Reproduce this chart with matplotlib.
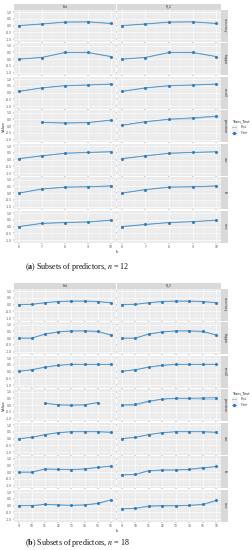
import numpy as np
import matplotlib
matplotlib.use("Agg")
from matplotlib import pyplot as plt
from matplotlib.lines import Line2D

plt.rcParams["mathtext.fontset"] = "stix"

nan = np.nan

# facet labels
columns = ["Ext", "R_2"]
metrics = ["accuracy", "kappa", "recall", "precision", "auc", "f1", "mcc"]

# (a) n = 12, k = 6..10
k_a = [6, 7, 8, 9, 10]
a_ext_train = [
    [0.0, 0.12, 0.26, 0.28, 0.16],
    [0.0, 0.12, 0.49, 0.49, 0.19],
    [0.09, 0.35, 0.51, 0.56, 0.63],
    [nan, 0.28, 0.23, 0.26, 0.44],
    [0.07, 0.28, 0.47, 0.53, 0.58],
    [0.0, 0.30, 0.44, 0.47, 0.54],
    [0.0, 0.24, 0.30, 0.35, 0.47],
]
a_ext_test = [
    [0.0, 0.12, 0.26, 0.28, 0.16],
    [0.0, 0.12, 0.49, 0.49, 0.19],
    [0.09, 0.35, 0.51, 0.56, 0.63],
    [nan, 0.28, 0.23, 0.26, 0.44],
    [0.07, 0.28, 0.47, 0.53, 0.58],
    [0.0, 0.30, 0.44, 0.47, 0.50],
    [0.0, 0.24, 0.30, 0.35, 0.47],
]
a_r2_train = [
    [0.0, 0.12, 0.26, 0.28, 0.16],
    [0.0, 0.12, 0.49, 0.49, 0.19],
    [0.09, 0.35, 0.51, 0.56, 0.63],
    [0.07, 0.33, 0.51, 0.62, 0.74],
    [0.07, 0.28, 0.47, 0.53, 0.58],
    [0.0, 0.26, 0.44, 0.47, 0.54],
    [0.0, 0.16, 0.30, 0.37, 0.47],
]
a_r2_test = [
    [0.0, 0.12, 0.26, 0.28, 0.16],
    [0.0, 0.12, 0.49, 0.49, 0.19],
    [0.09, 0.35, 0.51, 0.56, 0.63],
    [0.05, 0.31, 0.50, 0.55, 0.72],
    [0.07, 0.28, 0.47, 0.53, 0.58],
    [0.0, 0.26, 0.44, 0.47, 0.50],
    [0.0, 0.16, 0.30, 0.37, 0.47],
]

# (b) n = 18, k = 9..16
k_b = [9, 10, 11, 12, 13, 14, 15, 16]
b_ext_train = [
    [0.0, 0.02, 0.14, 0.23, 0.26, 0.26, 0.23, 0.14],
    [0.0, 0.0, 0.30, 0.46, 0.53, 0.53, 0.51, 0.23],
    [0.02, 0.14, 0.33, 0.47, 0.53, 0.53, 0.53, 0.53],
    [nan, nan, 0.14, 0.02, 0.0, 0.02, 0.19, nan],
    [0.0, 0.09, 0.30, 0.44, 0.51, 0.51, 0.51, 0.47],
    [0.0, 0.0, 0.23, 0.21, 0.19, 0.23, 0.35, 0.44],
    [0.0, 0.0, 0.09, 0.05, 0.02, 0.05, 0.16, 0.42],
]
b_ext_test = [
    [0.0, 0.02, 0.14, 0.23, 0.26, 0.26, 0.23, 0.14],
    [0.0, 0.0, 0.30, 0.46, 0.53, 0.53, 0.47, 0.23],
    [0.02, 0.14, 0.33, 0.47, 0.53, 0.53, 0.53, 0.53],
    [nan, nan, 0.14, 0.02, 0.0, 0.02, 0.19, nan],
    [0.0, 0.09, 0.30, 0.44, 0.51, 0.51, 0.51, 0.47],
    [0.0, 0.0, 0.23, 0.21, 0.19, 0.23, 0.35, 0.44],
    [0.0, 0.0, 0.09, 0.05, 0.02, 0.05, 0.16, 0.42],
]
b_r2_train = [
    [0.0, 0.02, 0.14, 0.23, 0.26, 0.26, 0.23, 0.14],
    [0.0, 0.0, 0.30, 0.46, 0.53, 0.53, 0.51, 0.23],
    [0.02, 0.14, 0.33, 0.47, 0.53, 0.53, 0.53, 0.53],
    [0.0, 0.07, 0.30, 0.44, 0.51, 0.51, 0.53, 0.56],
    [0.0, 0.09, 0.30, 0.44, 0.51, 0.51, 0.51, 0.47],
    [-0.21, -0.16, 0.12, 0.16, 0.16, 0.21, 0.33, 0.42],
    [-0.23, -0.19, -0.02, 0.0, 0.0, 0.02, 0.09, 0.40],
]
b_r2_test = [
    [0.0, 0.02, 0.14, 0.23, 0.26, 0.26, 0.23, 0.14],
    [0.0, 0.0, 0.30, 0.46, 0.53, 0.53, 0.47, 0.23],
    [0.02, 0.14, 0.33, 0.47, 0.53, 0.53, 0.53, 0.53],
    [0.0, -0.02, 0.26, 0.44, 0.49, 0.49, 0.45, 0.45],
    [0.0, 0.09, 0.30, 0.44, 0.51, 0.51, 0.51, 0.47],
    [-0.21, -0.18, 0.09, 0.14, 0.16, 0.19, 0.30, 0.38],
    [-0.23, -0.21, -0.07, -0.04, -0.02, 0.02, 0.07, 0.35],
]

W, H = 253, 550
fig = plt.figure(figsize=(W / 100, H / 100), dpi=100)
fig.patch.set_facecolor("white")

test_col = "#9CC9E8"
train_col = "#2E78B5"
yticks = [-1.0, -0.5, 0.0, 0.5, 1.0]


def box(x0, y0, x1, y1):
    # pixel box (top-left origin) -> figure fraction rect
    return [x0 / W, 1 - y1 / H, (x1 - x0) / W, (y1 - y0) / H]


def facet_chart(top, bottom, k, train_sets, test_sets, caption, cap_y, leg_y):
    col_x = [(14, 115.5), (117, 221)]
    step = (bottom - (top + 5.5)) / 7
    first = top + 5.5
    for c, (x0, x1) in enumerate(col_x):
        # column strip
        sax = fig.add_axes(box(x0, top, x1, top + 5.5))
        sax.set_facecolor("#D9D9D9")
        sax.set_xticks([]); sax.set_yticks([])
        for s in sax.spines.values():
            s.set_visible(False)
        sax.text(0.5, 0.5, columns[c], fontsize=2.3, color="#333333",
                 ha="center", va="center", transform=sax.transAxes)
        for r in range(7):
            y0 = first + r * step
            y1 = y0 + step - 1.5
            ax = fig.add_axes(box(x0, y0, x1, y1))
            ax.set_facecolor("#EBEBEB")
            pad = 0.05 * (k[-1] - k[0])
            ax.set_xlim(k[0] - pad, k[-1] + pad)
            ax.set_ylim(-1.17, 1.19)
            ax.set_xticks(k)
            ax.set_yticks(yticks)
            ax.set_xticks([(a + b) / 2 for a, b in zip(k[:-1], k[1:])], minor=True)
            ax.set_yticks([-0.75, -0.25, 0.25, 0.75], minor=True)
            ax.grid(which="major", color="white", linewidth=0.45)
            ax.grid(which="minor", color="white", linewidth=0.2)
            ax.set_axisbelow(True)
            for s in ax.spines.values():
                s.set_visible(False)
            ax.tick_params(length=1, width=0.3, color="#333333", pad=0.8,
                           labelsize=2.2, labelcolor="#4D4D4D")
            ax.tick_params(which="minor", length=0)
            if c == 1:
                ax.set_yticklabels([])
            else:
                ax.set_yticklabels(["-1.0", "-0.5", "0.0", "0.5", "1.0"])
            if r < 6:
                ax.set_xticklabels([])
            ax.plot(k, test_sets[c][r], color=test_col, linewidth=0.9,
                    zorder=2)
            ax.plot(k, train_sets[c][r], color=train_col, linewidth=0.45,
                    marker="o", markersize=1.3, zorder=3, alpha=0.85)
            if c == 1:
                rax = fig.add_axes(box(221, y0, 228, y1))
                rax.set_facecolor("#D9D9D9")
                rax.set_xticks([]); rax.set_yticks([])
                for s in rax.spines.values():
                    s.set_visible(False)
                rax.text(0.5, 0.5, metrics[r], fontsize=2.3, color="#333333",
                         rotation=-90, ha="center", va="center",
                         transform=rax.transAxes)
    mid = (first + bottom) / 2
    fig.text(4 / W, 1 - mid / H, "Value", rotation=90, fontsize=2.8,
             ha="center", va="center", color="#222222")
    fig.text(117 / W, 1 - (bottom + 8) / H, "k", fontsize=2.8,
             ha="center", va="center", color="#222222")
    # legend
    fig.text(232 / W, 1 - leg_y / H, "Train_Test", fontsize=2.6,
             ha="left", va="center", color="#222222")
    lax = fig.add_axes(box(231, leg_y + 3, 240, leg_y + 15))
    lax.set_xlim(0, 1); lax.set_ylim(0, 2)
    lax.axis("off")
    lax.add_patch(plt.Rectangle((0.1, 1.05), 0.55, 0.8, color="#F2F2F2"))
    lax.add_patch(plt.Rectangle((0.1, 0.1), 0.55, 0.8, color="#F2F2F2"))
    lax.add_line(Line2D([0.15, 0.6], [1.45, 1.45], color=test_col, linewidth=0.7))
    lax.add_line(Line2D([0.15, 0.6], [0.5, 0.5], color=train_col, linewidth=0.45))
    lax.plot([0.375], [0.5], "o", color=train_col, markersize=1.3)
    fig.text(240 / W, 1 - (leg_y + 6) / H, "Test", fontsize=2.2,
             ha="left", va="center", color="#333333")
    fig.text(240 / W, 1 - (leg_y + 12) / H, "Train", fontsize=2.2,
             ha="left", va="center", color="#333333")
    fig.text(25 / W, 1 - cap_y / H, caption, fontsize=5.8,
             family="Liberation Serif", ha="left", va="center", color="#111111")


facet_chart(4, 244, k_a, [a_ext_train, a_r2_train], [a_ext_test, a_r2_test],
            r"($\mathbf{a}$) Subsets of predictors, $n$ = 12", 267, 121)
facet_chart(283, 523, k_b, [b_ext_train, b_r2_train], [b_ext_test, b_r2_test],
            r"($\mathbf{b}$) Subsets of predictors, $n$ = 18", 543, 393)

fig.savefig("out.png", dpi=100, facecolor="white")
